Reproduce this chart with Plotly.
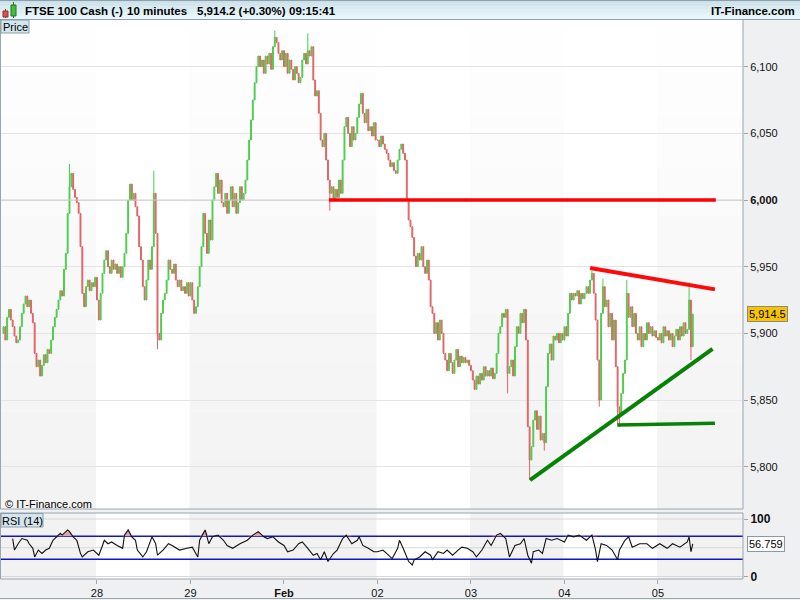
import numpy as np
import plotly.graph_objects as go

# ---------------- data (10-minute closes) ----------------
tick_text = ["28", "29", "<b>Feb</b>", "02", "03", "04", "05"]

day27 = [5905, 5895, 5912, 5918, 5910, 5905, 5898, 5893, 5895, 5905, 5915, 5922, 5928, 5920, 5925,
         5915, 5908, 5885, 5875, 5880, 5868, 5876, 5884, 5878, 5888, 5885, 5895, 5905, 5912, 5918,
         5925, 5932, 5928, 5948, 5960, 5990, 6010, 6020, 6008, 6002, 5998, 5990, 5965, 5930, 5920,
         5935, 5940, 5932, 5938, 5935, 5942]
day28 = [5925, 5910, 5930, 5945, 5955, 5962, 5950, 5945, 5955, 5948, 5952, 5945, 5950, 5942, 5950,
         5960, 5975, 6000, 6012, 6000, 6005, 5995, 5988, 5965, 5955, 5935, 5925, 5940, 5955, 5948,
         5965, 6005, 5975, 5900, 5895, 5915, 5925, 5930, 5940, 5955, 5948, 5945, 5952, 5940, 5935,
         5940, 5932, 5935, 5930, 5938, 5928]
day29 = [5938, 5925, 5915, 5920, 5935, 5950, 5965, 5990, 5975, 5960, 5985, 5970, 6000, 6010, 6020,
         6005, 6015, 5998, 5995, 6005, 5990, 6000, 6010, 5995, 6005, 5990, 5998, 6010, 6000, 6005,
         6015, 6030, 6045, 6060, 6075, 6088, 6100, 6108, 6100, 6105, 6095, 6108, 6102, 6110, 6098,
         6115, 6122, 6118, 6110, 6105, 6112]
feb01 = [6100, 6110, 6095, 6105, 6098, 6090, 6100, 6095, 6088, 6092, 6105, 6110, 6102, 6112, 6108,
         6115, 6090, 6078, 6082, 6065, 6045, 6040, 6050, 6030, 6015, 6005, 6010, 6000, 6008, 6002,
         6015, 6005, 6030, 6055, 6062, 6050, 6040, 6055, 6045, 6050, 6062, 6072, 6080, 6065, 6058,
         6068, 6052, 6055, 6048, 6058, 6045]
feb02 = [6045, 6040, 6048, 6042, 6038, 6035, 6030, 6025, 6028, 6022, 6020, 6030, 6038, 6042, 6035,
         6030, 6000, 5985, 5980, 5972, 5958, 5950, 5960, 5955, 5965, 5950, 5945, 5955, 5940, 5920,
         5915, 5900, 5908, 5895, 5910, 5900, 5885, 5880, 5872, 5885, 5878, 5870, 5880, 5888, 5875,
         5883, 5878, 5882, 5878, 5880, 5876]
feb03 = [5872, 5865, 5858, 5868, 5862, 5870, 5865, 5875, 5868, 5872, 5868, 5874, 5866, 5870, 5885,
         5900, 5905, 5915, 5912, 5918, 5870, 5875, 5880, 5868, 5890, 5905, 5900, 5915, 5908, 5918,
         5895, 5830, 5805, 5815, 5835, 5842, 5828, 5838, 5820, 5825, 5818, 5860, 5885, 5892, 5880,
         5898, 5895, 5900, 5893, 5900, 5895]
feb04 = [5905, 5898, 5915, 5930, 5925, 5930, 5928, 5932, 5922, 5930, 5926, 5930, 5935, 5930, 5940,
         5945, 5930, 5910, 5880, 5850, 5915, 5935, 5920, 5925, 5905, 5915, 5895, 5910, 5875, 5845,
         5840, 5855, 5870, 5880, 5930, 5912, 5920, 5905, 5915, 5900, 5895, 5905, 5890, 5900, 5895,
         5908, 5900, 5905, 5898, 5902, 5897]
feb05 = [5895, 5900, 5893, 5905, 5898, 5902, 5895, 5900, 5890, 5898, 5903, 5895, 5905, 5898, 5908,
         5900, 5903, 5925, 5890, 5914.5]
first_open = 5900

# bars whose wicks reach beyond the body
spike_bar = [36, 82, 84, 148, 166, 178, 275, 287, 295, 321, 325, 327, 335, 336, 340, 374, 375]
spike_high = [6027, 6022, None, 6127, 6125, None, None, None, None, 5947, None, 5941, None, None, 5940, 5938, None]
spike_low = [None, None, 5888, None, None, 5992, 5855, 5790, 5812, None, 5845, None, 5832, 5830, None, None, 5880]

# RSI (14): bar index and value
rsi_bar = [5, 6, 8, 10, 13, 14, 16, 17, 19, 21, 23, 25, 27, 29, 31, 32, 35, 36, 38, 40,
           42, 43, 46, 49, 52, 54, 55, 57, 59, 62, 65, 66, 68, 70, 72, 73, 76, 78, 81, 83,
           84, 87, 90, 92, 96, 100, 103, 106, 107, 110, 112, 114, 117, 120, 122, 125, 129, 133, 136, 139,
           142, 144, 147, 150, 153, 155, 158, 161, 163, 166, 169, 171, 173, 175, 177, 180, 182, 185, 187, 190,
           193, 194, 196, 199, 202, 204, 207, 210, 212, 215, 216, 218, 221, 223, 224, 227, 230, 233, 234, 237,
           240, 242, 245, 248, 250, 253, 256, 258, 261, 264, 266, 269, 271, 274, 276, 279, 282, 284, 286, 288,
           289, 292, 294, 296, 299, 302, 306, 308, 311, 314, 318, 321, 323, 324, 326, 329, 332, 335, 336, 339,
           341, 343, 347, 351, 354, 358, 362, 365, 369, 373, 374, 375, 376]
rsi_val = [66, 46, 57, 66, 63, 57, 49, 34, 46, 40, 46, 49, 63, 69, 75, 72, 81, 78, 69, 63,
           40, 34, 43, 46, 37, 54, 63, 57, 60, 54, 49, 72, 81, 69, 63, 46, 34, 43, 69, 57,
           37, 46, 57, 54, 46, 49, 51, 34, 63, 81, 57, 69, 72, 63, 54, 49, 57, 63, 72, 78,
           69, 66, 69, 60, 54, 43, 46, 57, 60, 49, 37, 40, 29, 43, 26, 40, 46, 66, 72, 57,
           63, 69, 54, 49, 43, 43, 46, 37, 31, 49, 63, 49, 26, 20, 29, 34, 43, 37, 29, 43,
           40, 46, 37, 46, 51, 49, 43, 34, 46, 63, 54, 72, 75, 66, 34, 54, 57, 66, 37, 23,
           43, 46, 40, 66, 63, 66, 60, 72, 69, 72, 63, 72, 46, 26, 57, 54, 46, 29, 46, 63,
           69, 51, 57, 57, 49, 57, 49, 57, 51, 60, 69, 43, 56.759]

# drawn trend lines: (bar index, price) end points
red_hline = ([177.5, 388.6], [6000, 6000])
red_down = ([320.0, 388.1], [5949, 5933])
green_up = ([287.2, 386.8], [5790, 5888.3])
green_flat = ([334.8, 388.1], [5831.3, 5832.6])

price_ticks = [5800, 5850, 5900, 5950, 6000, 6050, 6100]
last_price_text = "5,914.5"
last_price = 5914.5
rsi_last_text = "56.759"
rsi_last = 56.759
header_parts = ["FTSE 100 Cash (-)", "10 minutes", "5,914.2 (+0.30%)", "09:15:41"]

# ---------------- build series ----------------
days = [day27, day28, day29, feb01, feb02, feb03, feb04, feb05]
closes = [v for d in days for v in d]
n = len(closes)
idx = list(range(n))
day_start = []
s = 0
for d in days:
    day_start.append(s)
    s += len(d)
opens = [first_open] + closes[:-1]
highs = [max(o, c) for o, c in zip(opens, closes)]
lows = [min(o, c) for o, c in zip(opens, closes)]
for b, h, l in zip(spike_bar, spike_high, spike_low):
    if h is not None:
        highs[b] = max(highs[b], h)
    if l is not None:
        lows[b] = min(lows[b], l)

# ---------------- geometry ----------------
XMIN, XMAX = -1.36, 403.4
YMIN, YMAX = 5768.3, 6135.0
R2MIN, R2MAX = -4.35, 110.43


def fx(p):
    return (p - 1) / 742.0


def fy(p):
    return (579 - p) / 560.0


GREEN = "#4ccd4c"
RED = "#e06464"
FONT = "Liberation Sans, Arial, sans-serif"
GRAYLINE = "#9aa6ae"

fig = go.Figure()


def hline(y, col, axis, width=1):
    fig.add_trace(go.Scatter(x=[XMIN, XMAX], y=[y, y], mode="lines", line=dict(color=col, width=width),
                             showlegend=False, hoverinfo="skip", xaxis="x", yaxis=axis))


hline(6000, "#cdcdcd", "y")
for lv, col, w in [(100, "#d8d8d8", 1), (0, "#d8d8d8", 1), (50, "#d8d8d8", 1),
                   (70, "#1414c8", 1.3), (30, "#1414c8", 1.3)]:
    hline(lv, col, "y2", w)

fig.add_trace(go.Candlestick(
    x=idx, open=opens, high=highs, low=lows, close=closes,
    increasing=dict(line=dict(color=GREEN, width=1), fillcolor=GREEN),
    decreasing=dict(line=dict(color=RED, width=1), fillcolor=RED),
    whiskerwidth=0, showlegend=False, hoverinfo="skip", xaxis="x", yaxis="y"))

for (lx, ly), col, w in [(red_hline, "#ff0000", 3.5), (red_down, "#ff0a0a", 4),
                         (green_up, "#078207", 4), (green_flat, "#078207", 3.5)]:
    fig.add_trace(go.Scatter(x=lx, y=ly, mode="lines", line=dict(color=col, width=w),
                             showlegend=False, hoverinfo="skip", xaxis="x", yaxis="y"))

# RSI overbought fill and line
fig.add_trace(go.Scatter(x=rsi_bar, y=[70] * len(rsi_bar), mode="lines", line=dict(width=0),
                         showlegend=False, hoverinfo="skip", xaxis="x", yaxis="y2"))
fig.add_trace(go.Scatter(x=rsi_bar, y=np.maximum(np.array(rsi_val, dtype=float), 70), mode="lines",
                         line=dict(width=0), fill="tonexty", fillcolor="#d9a7a7",
                         showlegend=False, hoverinfo="skip", xaxis="x", yaxis="y2"))
fig.add_trace(go.Scatter(x=rsi_bar, y=rsi_val, mode="lines", line=dict(color="#111111", width=1.1),
                         showlegend=False, hoverinfo="skip", xaxis="x", yaxis="y2"))

shapes = []
# day shading bands
bands = [(XMIN, day_start[1] - 0.5), (day_start[2] - 0.5, day_start[4] - 0.5),
         (day_start[5] - 0.5, day_start[6] - 0.5), (day_start[7] - 0.5, XMAX)]
grad = ["#f3f3f3", "#f4f4f4", "#f5f5f5", "#f6f6f6", "#f8f8f8", "#f9f9f9", "#fbfbfb", "#fcfcfc", "#fdfdfd", "#fefefe"]
for x0, x1 in bands:
    for k, col in enumerate(grad):
        y0 = YMIN + (YMAX - YMIN) * k / len(grad)
        y1 = YMIN + (YMAX - YMIN) * (k + 1) / len(grad)
        shapes.append(dict(type="rect", xref="x", yref="y", x0=x0, x1=x1, y0=y0, y1=y1,
                           fillcolor=col, line=dict(width=0), layer="below"))
    shapes.append(dict(type="rect", xref="x", yref="y2", x0=x0, x1=x1, y0=R2MIN, y1=R2MAX,
                       fillcolor="#f2f2f2", line=dict(width=0), layer="below"))
# panel frames
shapes.append(dict(type="rect", xref="paper", yref="paper", x0=fx(0.5), x1=fx(743), y0=fy(509), y1=fy(19.5),
                   line=dict(color=GRAYLINE, width=1), fillcolor="rgba(0,0,0,0)", layer="above"))
shapes.append(dict(type="rect", xref="paper", yref="paper", x0=fx(0.5), x1=fx(743), y0=fy(579), y1=fy(513),
                   line=dict(color=GRAYLINE, width=1), fillcolor="rgba(0,0,0,0)", layer="above"))
shapes.append(dict(type="line", xref="paper", yref="paper", x0=fx(0), x1=fx(800), y0=fy(598.5), y1=fy(598.5),
                   line=dict(color=GRAYLINE, width=1), layer="above"))
# header gradient
hgrad = ["#e9f7fc", "#e3f3f9", "#ddeff5", "#d7eaf1", "#d1e5ed", "#cbe0e9"]
for k, col in enumerate(hgrad):
    shapes.append(dict(type="rect", xref="paper", yref="paper", x0=fx(0), x1=fx(800),
                       y0=fy(19 - (k + 1) * 19 / len(hgrad)), y1=fy(19 - k * 19 / len(hgrad)),
                       fillcolor=col, line=dict(width=0), layer="above"))
shapes.append(dict(type="line", xref="paper", yref="paper", x0=fx(0), x1=fx(800), y0=fy(19.5), y1=fy(19.5),
                   line=dict(color="#8d9fa9", width=1), layer="above"))
shapes.append(dict(type="line", xref="paper", yref="paper", x0=fx(0), x1=fx(800), y0=fy(0.5), y1=fy(0.5),
                   line=dict(color="#8d9fa9", width=1), layer="above"))
# icon candles
shapes.append(dict(type="line", xref="paper", yref="paper", x0=fx(5.5), x1=fx(5.5), y0=fy(18), y1=fy(9),
                   line=dict(color="#803030", width=1), layer="above"))
shapes.append(dict(type="rect", xref="paper", yref="paper", x0=fx(3), x1=fx(8), y0=fy(17), y1=fy(11),
                   fillcolor="#e05050", line=dict(color="#903030", width=1), layer="above"))
shapes.append(dict(type="line", xref="paper", yref="paper", x0=fx(13.5), x1=fx(13.5), y0=fy(18), y1=fy(2),
                   line=dict(color="#207020", width=1), layer="above"))
shapes.append(dict(type="rect", xref="paper", yref="paper", x0=fx(11), x1=fx(16), y0=fy(16), y1=fy(5),
                   fillcolor="#40c040", line=dict(color="#207020", width=1), layer="above"))
# label boxes
for x0, x1, y0, y1 in [(1, 29, 20, 33), (1, 43, 513.5, 527)]:
    shapes.append(dict(type="rect", xref="paper", yref="paper", x0=fx(x0), x1=fx(x1), y0=fy(y1), y1=fy(y0),
                       fillcolor="#d3e6ee", line=dict(color="#8d9fa9", width=1), layer="above"))

ann = []
hx = [23, 125, 195, 287]
for t, x in zip(header_parts, hx):
    ann.append(dict(text="<b>" + t + "</b>", x=fx(x), y=fy(11), xref="paper", yref="paper",
                    xanchor="left", yanchor="middle", showarrow=False,
                    font=dict(family=FONT, size=11.5, color="#000000")))
ann.append(dict(text="<b>IT-Finance.com</b>", x=fx(797), y=fy(11), xref="paper", yref="paper",
                xanchor="right", yanchor="middle", showarrow=False,
                font=dict(family=FONT, size=11.5, color="#000000")))
ann.append(dict(text="Price", x=fx(15), y=fy(27), xref="paper", yref="paper", xanchor="center",
                yanchor="middle", showarrow=False, font=dict(family=FONT, size=11, color="#000000")))
ann.append(dict(text="RSI (14)", x=fx(22), y=fy(520.5), xref="paper", yref="paper", xanchor="center",
                yanchor="middle", showarrow=False, font=dict(family=FONT, size=11, color="#000000")))
ann.append(dict(text="© IT-Finance.com", x=fx(3), y=fy(504), xref="paper", yref="paper", xanchor="left",
                yanchor="middle", showarrow=False, font=dict(family=FONT, size=11, color="#000000")))
ann.append(dict(text=last_price_text, x=fx(747), y=last_price, xref="paper", yref="y", xanchor="left",
                yanchor="middle", showarrow=False, bgcolor="#f8c400", bordercolor="#8a8a8a",
                borderwidth=1, borderpad=1, font=dict(family=FONT, size=11, color="#000000")))
ann.append(dict(text=rsi_last_text, x=fx(747), y=rsi_last, xref="paper", yref="y2", xanchor="left",
                yanchor="middle", showarrow=False, bgcolor="#ffffff", bordercolor="#8a9aa4",
                borderwidth=1, borderpad=1, font=dict(family=FONT, size=11, color="#000000")))

price_text = [("<b>{:,}</b>" if v == 6000 else "{:,}").format(v) for v in price_ticks]

fig.update_layout(
    width=800, height=600,
    margin=dict(l=1, r=57, t=19, b=21, pad=0),
    paper_bgcolor="#eef0f2", plot_bgcolor="#ffffff",
    font=dict(family=FONT, size=11, color="#000000"),
    showlegend=False,
    shapes=shapes, annotations=ann,
    xaxis=dict(range=[XMIN, XMAX], anchor="y2", showgrid=False, zeroline=False,
               tickvals=day_start[1:], ticktext=tick_text, ticks="outside", ticklen=4,
               tickcolor=GRAYLINE, tickfont=dict(family=FONT, size=11, color="#111111"),
               showline=False, rangeslider=dict(visible=False), automargin=False, fixedrange=True),
    yaxis=dict(domain=[fy(509), fy(20)], range=[YMIN, YMAX], side="right", anchor="x",
               tickvals=price_ticks, ticktext=price_text, ticks="outside", ticklen=4,
               tickcolor=GRAYLINE, gridcolor="#e4e4e4", gridwidth=1, zeroline=False,
               showline=False, tickfont=dict(family=FONT, size=11, color="#111111"), automargin=False),
    yaxis2=dict(domain=[0, fy(513)], range=[R2MIN, R2MAX], side="right", anchor="x",
                tickvals=[0, 100], ticktext=["<b>0</b>", "<b>100</b>"], ticks="outside", ticklen=4,
                tickcolor=GRAYLINE, showgrid=False, zeroline=False, showline=False,
                tickfont=dict(family=FONT, size=12, color="#111111"), automargin=False),
)

fig.write_html("out.html", config={"displayModeBar": False},
               post_script="document.body.style.margin='0px';document.body.style.padding='0px';"
                           "document.body.style.overflow='hidden';")
